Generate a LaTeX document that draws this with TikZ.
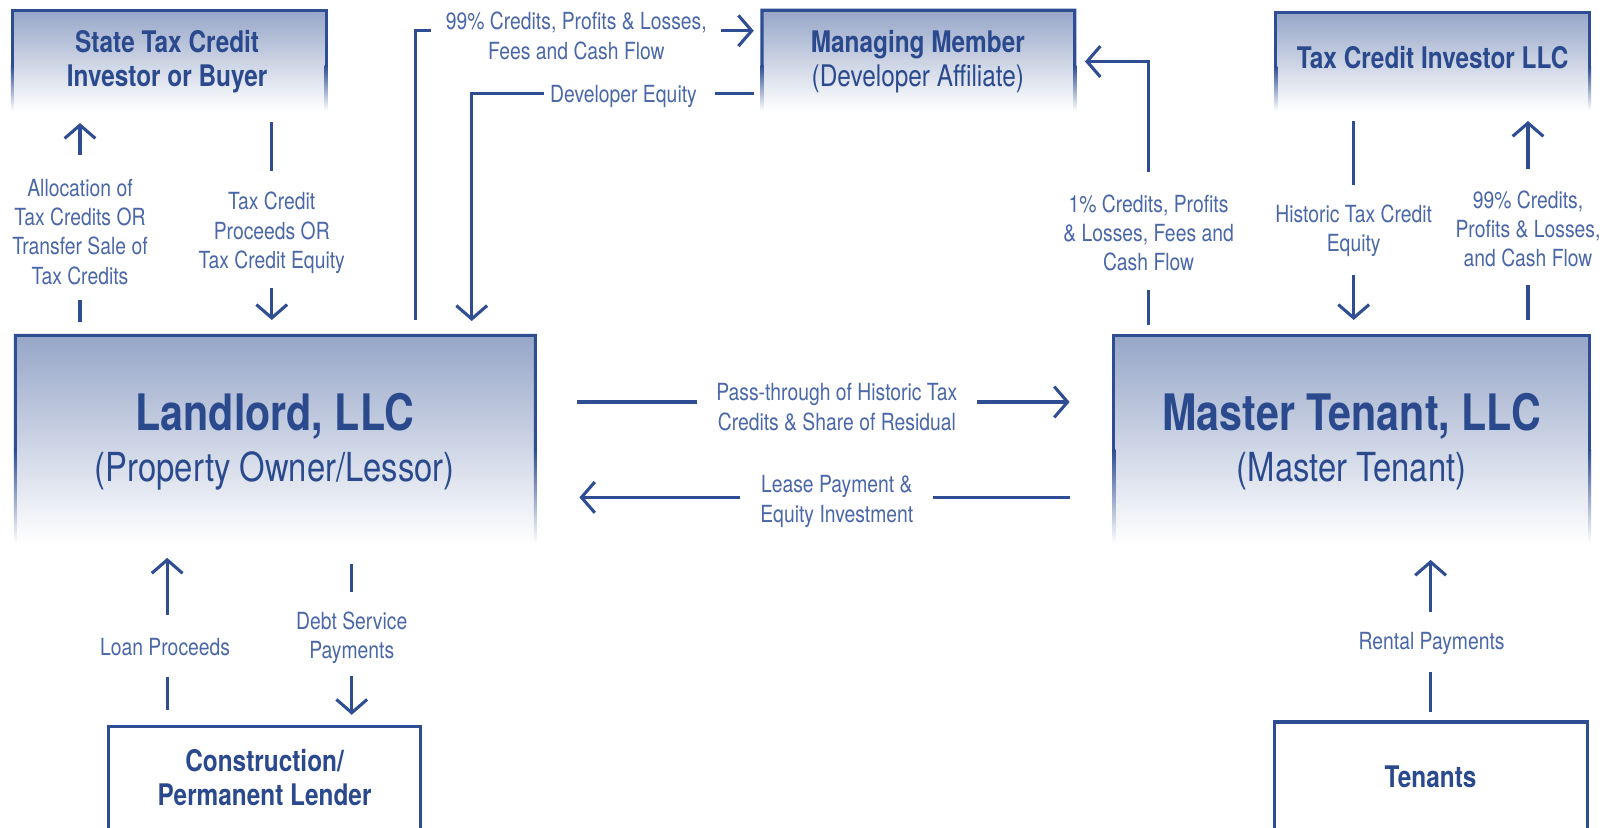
\documentclass[tikz,border=0pt]{standalone}
\usepackage{fontspec}
\setmainfont{TeX Gyre Heros}[FakeStretch=0.82]
\usetikzlibrary{arrows.meta,calc}
\definecolor{bc}{HTML}{2E4D93}
\definecolor{tc}{HTML}{2B4A8E}
\definecolor{lc}{HTML}{4A67A8}
\definecolor{gtop}{HTML}{96A6C8}
\tikzset{
  lbl/.style={text=lc, align=center, inner sep=0pt, font=\fontsize{11.5}{14.25}\selectfont},
  ttl/.style={text=tc, align=center, inner sep=0pt, font=\fontsize{14.5}{16.5}\selectfont},
  bigttl/.style={text=tc, inner sep=0pt, font=\fontsize{24.5}{28}\selectfont\bfseries},
  subttl/.style={text=tc, inner sep=0pt, font=\fontsize{19.5}{24}\selectfont},
  ln/.style={bc, line width=1.5pt},
  arr/.style={ln, -{Straight Barb[length=6.5pt,width=15pt]}},
  boxframe/.style={inner sep=0pt, outer sep=0pt},
}
\newcommand\gradbox[5]{%
  \node[boxframe, minimum width={#4*0.5pt}, minimum height={#5*0.5pt}] (#1) at (#2,#3) {};
  \shade[top color=gtop, bottom color=white] (#1.north west) rectangle (#1.south east);
  \draw[ln] ($(#1.north west)!0.55!(#1.south west)$) -- (#1.north west) -- (#1.north east) -- ($(#1.north east)!0.55!(#1.south east)$);
  \shade[top color=bc, bottom color=white] ($(#1.north west)!0.55!(#1.south west)+(-1.5,0)$) rectangle ($(#1.south west)+(1.5,0)$);
  \shade[top color=bc, bottom color=white] ($(#1.north east)!0.55!(#1.south east)+(-1.5,0)$) rectangle ($(#1.south east)+(1.5,0)$);
}
\begin{document}
\begin{tikzpicture}[x=0.5pt,y=-0.5pt]
\useasboundingbox (0,0) rectangle (1568,807);
\fill[white] (0,0) rectangle (1568,807);

% gradient boxes
\gradbox{state}{165}{59}{306}{98}
\gradbox{mm}{895.5}{59}{305}{98}
\gradbox{tci}{1397}{60}{306}{96}
\gradbox{land}{268.5}{428.5}{507}{203}
\gradbox{mt}{1318}{428.5}{464}{203}

% plain boxes
\node[boxframe, draw=bc, line width=1.5pt, fill=white, minimum width=152pt, minimum height=52pt] (lender) at (258,760) {};
\node[boxframe, draw=bc, line width=1.5pt, fill=white, minimum width=152.5pt, minimum height=54pt] (ten) at (1395.5,758) {};

% box texts
\node[ttl, font=\fontsize{14.5}{16.5}\selectfont\bfseries] (stateT) at (163,60) {State Tax Credit\\Investor or Buyer};
\node[ttl] (mmT) at (895,60) {\textbf{Managing Member}\\(Developer Affiliate)};
\node[ttl, font=\fontsize{14.5}{16.5}\selectfont\bfseries] (tciT) at (1397,56) {Tax Credit Investor LLC};
\node[bigttl] (landT) at (268,406) {Landlord, LLC};
\node[subttl] (landS) at (268,459) {(Property Owner/Lessor)};
\node[bigttl] (mtT) at (1318,406) {Master Tenant, LLC};
\node[subttl] (mtS) at (1318,459) {(Master Tenant)};
\node[ttl, font=\fontsize{14.5}{16.5}\selectfont\bfseries] (lenderT) at (258,758) {Construction/\\Permanent Lender};
\node[ttl, font=\fontsize{14.5}{16.5}\selectfont\bfseries] (tenT) at (1395,757) {Tenants};

% labels
\node[lbl] (l1) at (78,226) {Allocation of\\Tax Credits OR\\Transfer Sale of\\Tax Credits};
\node[lbl] (l2) at (265,227) {Tax Credit\\Proceeds OR\\Tax Credit Equity};
\node[lbl] (l3) at (562,35) {99\% Credits, Profits \& Losses,\\Fees and Cash Flow};
\node[lbl] (l4) at (608,94) {Developer Equity};
\node[lbl] (l5) at (1120,227) {1\% Credits, Profits\\\& Losses, Fees and\\Cash Flow};
\node[lbl] (l6) at (1320,225) {Historic Tax Credit\\Equity};
\node[lbl] (l7) at (1490,223) {99\% Credits,\\Profits \& Losses,\\and Cash Flow};
\node[lbl] (l8) at (816,397) {Pass-through of Historic Tax\\Credits \& Share of Residual};
\node[lbl] (l9) at (816,489) {Lease Payment \&\\Equity Investment};
\node[lbl] (l10) at (161,631) {Loan Proceeds};
\node[lbl] (l11) at (343,622) {Debt Service\\Payments};
\node[lbl] (l12) at (1396,627) {Rental Payments};

% connectors
\draw[ln] (78,314) -- (78,293);
\draw[arr] (78,151) -- (78,120);
\draw[ln] (265,119) -- (265,167);
\draw[arr] (265,281) -- (265,312);
\draw[ln] (405,312) -- (405,30) -- (420,30);
\draw[arr] (703,30) -- (735,30);
\draw[ln] (735,91) -- (697,91);
\draw[arr] (530,91) -- (460,91) -- (460,313);
\draw[ln] (1120,317) -- (1120,283);
\draw[arr] (1120,168) -- (1120,60) -- (1058,60);
\draw[ln] (1320,118) -- (1320,180);
\draw[arr] (1320,268) -- (1320,312);
\draw[arr] (1490,165) -- (1490,118);
\draw[ln] (1490,278) -- (1490,312);
\draw[ln] (563,392) -- (680,392);
\draw[arr] (953,392) -- (1043,392);
\draw[arr] (722,485) -- (565,485);
\draw[ln] (910,485) -- (1043,485);
\draw[arr] (163,600) -- (163,544);
\draw[ln] (163,660) -- (163,692);
\draw[ln] (343,550) -- (343,577);
\draw[arr] (343,659) -- (343,697);
\draw[arr] (1395,597) -- (1395,546);
\draw[ln] (1395,655) -- (1395,694);
\end{tikzpicture}
\end{document}
